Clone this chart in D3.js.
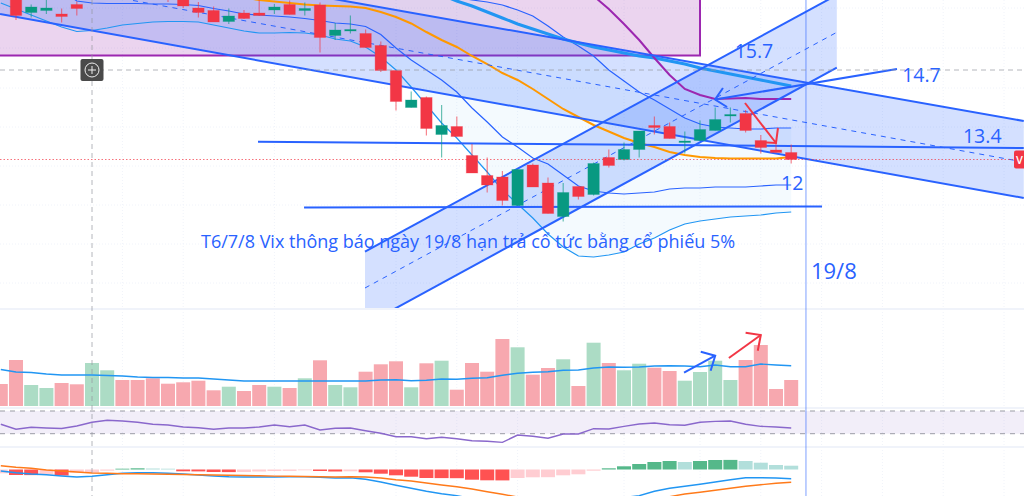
<!DOCTYPE html>
<html>
<head>
<meta charset="utf-8">
<script src="https://cdn.jsdelivr.net/npm/d3@7"></script>
<style>
  html, body { margin: 0; padding: 0; background: #fff; overflow: hidden; }
  svg { display: block; }
  text { font-family: "Open Sans", "DejaVu Sans", sans-serif; }
</style>
</head>
<body>
<div id="chart"></div>
<script>
// candles, oldest first, bar 0 sits at the left edge of the window
var opens = [16.4,16.16,15.75,15.79,15.72,15.91,16.1,16.3,16.6,16.55,16.5,16.3,16.15,15.84,15.79,15.57,15.74,15.74,15.8,15.91,15.79,15.9,15.29,15.39,15.33,15.09,14.59,13.85,14.05,13.31,13.47,12.89,12.49,12.46,11.89,12.7,12.34,11.67,12.27,12.11,12.85,12.81,13.01,13.49,13.47,13.15,13.19,13.39,13.69,13.73,13.19,13,12.95];
var closes = [16.16,15.69,15.86,15.84,15.67,15.83,16.3,16.5,16.4,16.4,16.3,16.1,15.88,15.75,15.56,15.68,15.63,15.69,15.86,15.71,15.83,15.25,15.4,15.41,15.05,14.59,13.97,14,13.43,13.49,13.27,12.54,12.3,11.99,12.61,12.26,11.73,12.15,12.07,12.73,12.69,13.01,13.38,13.45,13.23,13.18,13.41,13.61,13.71,13.39,13.05,12.95,12.81];
var highs = [16.5,16.25,15.91,16.04,15.83,15.97,16.4,16.6,16.65,16.6,16.55,16.35,16.2,15.96,15.87,15.83,15.8,16.04,15.92,15.99,15.95,15.95,15.54,15.69,15.41,15.17,14.59,14.17,14.07,13.9,13.67,13.12,12.85,12.58,12.61,12.73,12.45,12.34,12.27,12.75,13.01,13.15,13.38,13.67,13.55,13.37,13.59,13.85,13.85,13.8,13.3,13.2,13.11];
var lows = [16.1,15.6,15.65,15.72,15.55,15.69,16.05,16.25,16.35,16.3,16.2,15.96,15.84,15.65,15.56,15.52,15.62,15.68,15.72,15.71,15.69,14.95,15.2,15.33,15.05,14.56,13.79,13.85,13.29,12.85,13.27,12.54,12.15,11.89,11.89,12.26,11.73,11.57,12.01,12.09,12.65,12.79,12.85,13.31,13.23,12.93,13.19,13.39,13.55,13.35,12.93,12.95,12.73];

var volumes = [22,46,21,18,23,21.7,43,35.7,26,26,27.7,22.3,23.7,25.3,15.7,19.3,15,21,19.3,18,27.7,45.7,21,18.7,34.3,41.7,44.7,18.7,42.7,45.3,16.3,43,34.3,67,58.7,31.3,38,46.7,20,63.3,43,35.7,42.3,38.3,35,25.3,34,45.3,26,46,61,17,26];
var volumeMa = [36.5,34,33.5,32,31,31,31,30.5,30,29,28.5,28.5,28,28,27,26,25,25,25,25,25,25,25,25,25,26,26.3,25.3,25.7,27,26.7,27.7,28.3,30.7,32.7,33.7,34.3,35.7,36,38,39,38.7,39,40,40.3,40,39.3,41,39.3,39.3,42,41,40.3];

// indicators on the price pane
var bandUpper = [16.4,16.4,16.4,16.4,16.4,16.4,16.4,16.4,16.4,16.4,16.4,16.4,16.4,16.4,16.4,16.4,16.4,16.4,16.4,16.4,16.4,16.4,16.4,16.4,16.4,16.4,16.4,16.4,16.3,16.2,16.06,16,15.96,15.9,15.8,15.68,15.48,15.26,15.08,14.88,14.6,14.38,14.16,14,13.82,13.64,13.52,13.46,13.44,13.42,13.42,13.44,13.44];
var bandMiddle = [16.2,16.2,16.2,16.2,16.2,15.98,15.94,15.93,15.93,15.93,15.92,15.92,15.91,15.89,15.83,15.78,15.72,15.7,15.68,15.66,15.63,15.59,15.54,15.52,15.47,15.31,15.04,14.8,14.6,14.4,14.16,13.84,13.56,13.26,13.06,12.84,12.72,12.5,12.28,12.18,12.14,12.12,12.14,12.16,12.22,12.24,12.24,12.26,12.26,12.26,12.28,12.3,12.3];
var bandLower = [15.94,15.82,15.7,15.58,15.46,15.37,15.39,15.44,15.5,15.53,15.56,15.57,15.57,15.56,15.5,15.44,15.38,15.34,15.34,15.35,15.34,15.3,15.22,15.18,15.06,14.86,14.6,14.26,13.9,13.54,13.24,12.9,12.56,12.2,11.92,11.64,11.32,11.06,10.88,10.86,10.9,10.96,11.12,11.24,11.4,11.52,11.58,11.62,11.66,11.68,11.7,11.74,11.76];
var orangeMa = [16.3,16.3,16.3,16.3,16.3,16.3,16.3,16.3,16.3,16.3,16.3,16.3,16.3,16.3,16.2,16.15,16.05,16,15.97,15.94,15.91,15.89,15.88,15.87,15.84,15.76,15.66,15.53,15.36,15.2,15.06,14.88,14.72,14.54,14.4,14.22,14.02,13.82,13.66,13.5,13.37,13.24,13.14,13.06,12.96,12.9,12.86,12.84,12.83,12.83,12.83,12.83,12.86];
var purpleStart = 37;
var purpleMa = [16.8,16.4,16.08,15.82,15.52,15.2,14.84,14.5,14.22,14.1,14.02,14.03,14.04,14.02,14.02,14.02];
var cyanStart = 29;
var cyanMa = [16.1,15.98,15.88,15.76,15.64,15.52,15.42,15.32,15.22,15.14,15.06,15,14.94,14.88,14.84,14.78,14.72,14.64,14.58,14.52,14.46,14.4,14.34,14.28];

// rsi and macd panes
var rsi = [46.6,37.8,41.3,40,39.2,43.6,50.1,53.6,52.4,50.1,46.6,45.3,41.8,40.6,37.8,40,40,41.8,45.3,42.3,45.3,36.5,39.5,40,35.3,30.7,24.7,24.7,21.2,23.7,21.2,17.7,16.6,14.8,27.7,25.4,21.9,29.5,29.5,38.8,38.3,43,47.1,48.9,45.9,44.8,50.1,51.8,52.4,46.6,43,41.8,40];
var macdHist = [-0.38,-0.55,-0.56,-0.5,-0.6,-0.32,-0.31,-0.12,0.08,0.12,0.1,0.08,-0.18,-0.19,-0.25,-0.26,-0.25,-0.2,-0.15,-0.14,-0.08,-0.15,-0.2,-0.18,-0.28,-0.42,-0.58,-0.72,-0.85,-0.86,-0.87,-1.02,-1.08,-1.09,-0.85,-0.78,-0.77,-0.58,-0.48,-0.12,0.12,0.32,0.55,0.75,0.85,0.75,0.85,0.95,0.96,0.85,0.68,0.45,0.38];
var macdLine = [-0.15,-0.32,-0.45,-0.52,-0.65,-0.75,-0.68,-0.52,-0.38,-0.32,-0.32,-0.38,-0.45,-0.55,-0.65,-0.72,-0.75,-0.75,-0.75,-0.72,-0.72,-0.78,-0.85,-0.82,-0.98,-1.25,-1.58,-1.88,-2.18,-2.42,-2.62,-2.9,-3.2,-3.5,-3.6,-3.6,-3.6,-3.5,-3.4,-3.2,-3,-2.8,-2.62,-2.18,-1.88,-1.68,-1.48,-1.25,-1.02,-0.82,-0.82,-0.85,-0.92];
var macdSignal = [0.38,0.22,0.12,-0.05,-0.15,-0.25,-0.35,-0.38,-0.42,-0.42,-0.45,-0.47,-0.5,-0.52,-0.55,-0.58,-0.6,-0.63,-0.66,-0.68,-0.7,-0.72,-0.75,-0.72,-0.75,-0.85,-1.02,-1.15,-1.35,-1.55,-1.72,-1.95,-2.22,-2.48,-2.75,-2.9,-3,-3.1,-3.1,-3.1,-3.05,-3,-2.95,-2.85,-2.72,-2.45,-2.28,-2.08,-1.88,-1.68,-1.52,-1.38,-1.28];

// hand drawn objects as [bar, price]
var channelA = {
  top: [[-0.05, 17.2], [67.3, 13.58]],
  mid: [[8.7, 15.99], [67.3, 12.76]],
  bottom: [[-0.05, 15.72], [67.3, 12.04]]
};
var channelB = {
  top: [[23.96, 10.966], [55, 16.1]],
  mid: [[23.96, 10.24], [55, 15.354]],
  bottom: [[23.96, 9.5], [55, 14.646]]
};
var levelHigh = [[16.92, 13.166], [67.3, 13.04]];
var levelLow = [[19.95, 11.85], [54.03, 11.87]];
var arrowBlue = [[58.96, 14.62], [46.99, 14.01]];
var arrowBlueHead = [[47.51, 14.24], [46.99, 14.01], [47.78, 13.86]];
var arrowRed = [[48.96, 13.94], [51, 13.14]];
var arrowRedHead = [[51.13, 13.44], [51, 13.14], [49.8, 13.16]];
var supplyBox = { x0: -2, x1: 46, top: 17.5, bottom: 14.89 };
var volArrowBlue = [[44.95, 33.3], [47, 50.3]];
var volArrowBlueHead = [[46.05, 54.3], [47, 50.3], [46.7, 35.3]];
var volArrowRed = [[47.9, 48], [50, 71]];
var volArrowRedHead = [[49, 73.3], [50, 71], [49.8, 55.3]];

var markerBar = 52.97;
var crossBar = 6;
var crossPrice = 14.6;
var lastPrice = 12.81;

var priceLabels = [
  { text: '15.7', bar: 48.28, price: 14.84, size: 19.5 },
  { text: '14.7', bar: 59.3, price: 14.37, size: 19.5 },
  { text: '13.4', bar: 63.3, price: 13.14, size: 19.5 },
  { text: '12', bar: 51.33, price: 12.21, size: 19.5 },
  { text: '19/8', bar: 53.3, price: 10.42, size: 22 }
];
var noteText = 'T6/7/8 Vix thông báo ngày 19/8 hạn trả cổ tức bằng cổ phiếu 5%';
var noteAnchor = { bar: 13.17, price: 11.04 };

var gridBars = [8, 12, 18, 26, 30, 34, 41, 46, 50, 54, 58, 62, 66];
var gridPrices = [15.84, 15.04, 14.24, 13.46, 12.68, 11.9, 11.12, 10.34];

var WIDTH = 1024;
var HEIGHT = 496;
var BLUE = '#2962ff';
var RED = '#f23645';
var GREEN = '#089981';

var x = d3.scaleLinear().domain([0, 50]).range([0.8, 760.8]);
var yPrice = d3.scaleLinear().domain([16, 9.8]).range([0, 310]);
var yVol = d3.scaleLinear().domain([0, 100]).range([406, 306]);
var yRsi = d3.scaleLinear().domain([30, 70]).range([433.7, 411]);
var yMacd = d3.scaleLinear().domain([3, -3]).range([439.5, 499.5]);

var svg = d3.select('#chart').append('svg')
  .attr('width', WIDTH)
  .attr('height', HEIGHT)
  .style('background', '#fff');

svg.append('clipPath').attr('id', 'price-clip')
  .append('rect').attr('x', 0).attr('y', 0).attr('width', WIDTH).attr('height', yPrice(9.82));

// grid
svg.append('g').selectAll('line').data(gridBars).enter().append('line')
  .attr('x1', function(d) { return x(d); })
  .attr('x2', function(d) { return x(d); })
  .attr('y1', 0).attr('y2', HEIGHT)
  .attr('stroke', '#f0f3fa').attr('stroke-dasharray', '1 2');
svg.append('g').selectAll('line').data(gridPrices).enter().append('line')
  .attr('x1', 0).attr('x2', WIDTH)
  .attr('y1', function(d) { return yPrice(d); })
  .attr('y2', function(d) { return yPrice(d); })
  .attr('stroke', '#f0f3fa').attr('stroke-dasharray', '1 2');

var pricePane = svg.append('g').attr('clip-path', 'url(#price-clip)');

var priceLine = d3.line().x(function(d) { return x(d[0]); }).y(function(d) { return yPrice(d[1]); });

function drawChannel(ch) {
  var shape = [ch.top[0], ch.top[1], ch.bottom[1], ch.bottom[0]];
  pricePane.append('path').attr('d', priceLine(shape) + 'Z')
    .attr('fill', BLUE).attr('fill-opacity', 0.2);
}

function drawChannelLines(ch) {
  pricePane.append('path').attr('d', priceLine(ch.top))
    .attr('fill', 'none').attr('stroke', BLUE).attr('stroke-width', 2);
  pricePane.append('path').attr('d', priceLine(ch.bottom))
    .attr('fill', 'none').attr('stroke', BLUE).attr('stroke-width', 2);
  pricePane.append('path').attr('d', priceLine(ch.mid))
    .attr('fill', 'none').attr('stroke', BLUE).attr('stroke-width', 1).attr('stroke-dasharray', '5 5');
}

// supply box
pricePane.append('rect')
  .attr('x', x(supplyBox.x0))
  .attr('y', yPrice(supplyBox.top))
  .attr('width', x(supplyBox.x1) - x(supplyBox.x0))
  .attr('height', yPrice(supplyBox.bottom) - yPrice(supplyBox.top))
  .attr('fill', '#9c27b0').attr('fill-opacity', 0.2)
  .attr('stroke', '#9c27b0').attr('stroke-width', 2);

// band fill
var bandArea = d3.area()
  .x(function(d, i) { return x(i); })
  .y0(function(d) { return yPrice(d); })
  .y1(function(d, i) { return yPrice(bandLower[i]); });
pricePane.append('path').datum(bandUpper).attr('d', bandArea)
  .attr('fill', '#2196f3').attr('fill-opacity', 0.05);

drawChannel(channelA);
drawChannel(channelB);

function seriesLine(values, start) {
  return d3.line()
    .x(function(d, i) { return x(i + start); })
    .y(function(d) { return yPrice(d); })(values);
}

pricePane.append('path').attr('d', seriesLine(bandUpper, 0))
  .attr('fill', 'none').attr('stroke', '#2962ff').attr('stroke-width', 1.2);
pricePane.append('path').attr('d', seriesLine(bandMiddle, 0))
  .attr('fill', 'none').attr('stroke', '#2962ff').attr('stroke-width', 1.2);
pricePane.append('path').attr('d', seriesLine(bandLower, 0))
  .attr('fill', 'none').attr('stroke', '#2196f3').attr('stroke-width', 1.2);
pricePane.append('path').attr('d', seriesLine(cyanMa, cyanStart))
  .attr('fill', 'none').attr('stroke', '#2196f3').attr('stroke-width', 3);
pricePane.append('path').attr('d', seriesLine(orangeMa, 0))
  .attr('fill', 'none').attr('stroke', '#ff9800').attr('stroke-width', 2);
pricePane.append('path').attr('d', seriesLine(purpleMa, purpleStart))
  .attr('fill', 'none').attr('stroke', '#9c27b0').attr('stroke-width', 2);

drawChannelLines(channelA);
drawChannelLines(channelB);

[levelHigh, levelLow].forEach(function(l) {
  pricePane.append('path').attr('d', priceLine(l))
    .attr('fill', 'none').attr('stroke', BLUE).attr('stroke-width', 2);
});

// candles
var candles = d3.range(opens.length);
function candleColor(i) { return closes[i] >= opens[i] ? GREEN : RED; }

pricePane.append('g').selectAll('line').data(candles).enter().append('line')
  .attr('x1', function(i) { return x(i); })
  .attr('x2', function(i) { return x(i); })
  .attr('y1', function(i) { return yPrice(highs[i]); })
  .attr('y2', function(i) { return yPrice(lows[i]); })
  .attr('stroke', candleColor).attr('stroke-opacity', 0.6).attr('stroke-width', 1.2);
pricePane.append('g').selectAll('rect').data(candles).enter().append('rect')
  .attr('x', function(i) { return x(i) - 5.7; })
  .attr('width', 11.4)
  .attr('y', function(i) { return yPrice(Math.max(opens[i], closes[i])); })
  .attr('height', function(i) { return Math.max(1.5, Math.abs(yPrice(opens[i]) - yPrice(closes[i]))); })
  .attr('fill', candleColor)
  .attr('stroke', candleColor).attr('stroke-opacity', 0.3).attr('stroke-width', 1);

// arrows on the price pane
function drawArrow(parent, lineFn, shaft, head, color) {
  parent.append('path').attr('d', lineFn(shaft))
    .attr('fill', 'none').attr('stroke', color).attr('stroke-width', 2);
  parent.append('path').attr('d', lineFn(head))
    .attr('fill', 'none').attr('stroke', color).attr('stroke-width', 2);
}
drawArrow(pricePane, priceLine, arrowBlue, arrowBlueHead, BLUE);
drawArrow(pricePane, priceLine, arrowRed, arrowRedHead, RED);

// labels
svg.append('g').selectAll('text').data(priceLabels).enter().append('text')
  .attr('x', function(d) { return x(d.bar); })
  .attr('y', function(d) { return yPrice(d.price); })
  .attr('font-size', function(d) { return d.size; })
  .attr('fill', BLUE)
  .text(function(d) { return d.text; });

svg.append('text')
  .attr('x', x(noteAnchor.bar))
  .attr('y', yPrice(noteAnchor.price))
  .attr('font-size', 18)
  .attr('fill', BLUE)
  .text(noteText);

// last price line and tag
svg.append('line')
  .attr('x1', 0).attr('x2', WIDTH)
  .attr('y1', yPrice(lastPrice)).attr('y2', yPrice(lastPrice))
  .attr('stroke', RED).attr('stroke-opacity', 0.7).attr('stroke-dasharray', '1.5 2');
svg.append('rect')
  .attr('x', 1014).attr('y', yPrice(lastPrice) - 9)
  .attr('width', 12).attr('height', 18).attr('rx', 2)
  .attr('fill', RED);
svg.append('text')
  .attr('x', 1016).attr('y', yPrice(lastPrice) + 4)
  .attr('font-size', 11).attr('font-weight', 600).attr('fill', '#fff')
  .text('V');

// pane separators
[309, 408, 447].forEach(function(d) {
  svg.append('line')
    .attr('x1', 0).attr('x2', WIDTH).attr('y1', d).attr('y2', d)
    .attr('stroke', '#f0f3fa').attr('stroke-width', 2);
});

// volume
svg.append('g').selectAll('rect').data(candles).enter().append('rect')
  .attr('x', function(i) { return x(i) - 7; })
  .attr('width', 14)
  .attr('y', function(i) { return yVol(volumes[i]); })
  .attr('height', function(i) { return yVol(0) - yVol(volumes[i]); })
  .attr('fill', function(i) { return closes[i] >= opens[i] ? '#acdcc5' : '#f7a8af'; });
svg.append('path')
  .attr('d', d3.line().x(function(d, i) { return x(i); }).y(function(d) { return yVol(d); })(volumeMa))
  .attr('fill', 'none').attr('stroke', '#2196f3').attr('stroke-width', 1.4);

var volLine = d3.line().x(function(d) { return x(d[0]); }).y(function(d) { return yVol(d[1]); });
drawArrow(svg, volLine, volArrowBlue, volArrowBlueHead, BLUE);
drawArrow(svg, volLine, volArrowRed, volArrowRedHead, RED);

// rsi
svg.append('rect')
  .attr('x', 0).attr('width', WIDTH)
  .attr('y', yRsi(70)).attr('height', yRsi(30) - yRsi(70))
  .attr('fill', '#7e57c2').attr('fill-opacity', 0.1);
[70, 30].forEach(function(d) {
  svg.append('line')
    .attr('x1', 0).attr('x2', WIDTH).attr('y1', yRsi(d)).attr('y2', yRsi(d))
    .attr('stroke', '#9a9ca5').attr('stroke-dasharray', '5 5');
});
svg.append('path')
  .attr('d', d3.line().x(function(d, i) { return x(i); }).y(function(d) { return yRsi(d); })(rsi))
  .attr('fill', 'none').attr('stroke', '#8a68cc').attr('stroke-width', 1.4);

// macd
function histColor(d, i) {
  var prev = i > 0 ? macdHist[i - 1] : d;
  if (d >= 0) return d > prev ? '#55b88a' : '#b2dfdb';
  return d < prev ? '#ff5252' : '#ffcdd2';
}
svg.append('g').selectAll('rect').data(macdHist).enter().append('rect')
  .attr('x', function(d, i) { return x(i) - 7; })
  .attr('width', 14)
  .attr('y', function(d) { return Math.min(yMacd(d), yMacd(0)); })
  .attr('height', function(d) { return Math.abs(yMacd(d) - yMacd(0)); })
  .attr('fill', histColor);
var macdPath = d3.line().x(function(d, i) { return x(i); }).y(function(d) { return yMacd(d); });
svg.append('path').attr('d', macdPath(macdLine))
  .attr('fill', 'none').attr('stroke', '#2196f3').attr('stroke-width', 1.4);
svg.append('path').attr('d', macdPath(macdSignal))
  .attr('fill', 'none').attr('stroke', '#ff7a1a').attr('stroke-width', 1.4);

// vertical marker for the dividend date
svg.append('line')
  .attr('x1', x(markerBar)).attr('x2', x(markerBar))
  .attr('y1', 0).attr('y2', HEIGHT)
  .attr('stroke', BLUE).attr('stroke-opacity', 0.4).attr('stroke-width', 1.5);

// crosshair
svg.append('line')
  .attr('x1', x(crossBar)).attr('x2', x(crossBar))
  .attr('y1', 0).attr('y2', HEIGHT)
  .attr('stroke', '#9598a1').attr('stroke-opacity', 0.7).attr('stroke-dasharray', '5 4');
svg.append('line')
  .attr('x1', 0).attr('x2', WIDTH)
  .attr('y1', yPrice(crossPrice)).attr('y2', yPrice(crossPrice))
  .attr('stroke', '#9598a1').attr('stroke-opacity', 0.7).attr('stroke-dasharray', '5 4');

var plus = svg.append('g')
  .attr('transform', 'translate(' + x(crossBar) + ',' + yPrice(crossPrice) + ')');
plus.append('rect')
  .attr('x', -11.5).attr('y', -11).attr('width', 23).attr('height', 22).attr('rx', 2)
  .attr('fill', '#4a4a4a');
plus.append('circle').attr('r', 7).attr('fill', 'none').attr('stroke', '#eee').attr('stroke-width', 1);
plus.append('path').attr('d', 'M-4 0H4M0 -4V4').attr('stroke', '#eee').attr('stroke-width', 1);
</script>
</body>
</html>
